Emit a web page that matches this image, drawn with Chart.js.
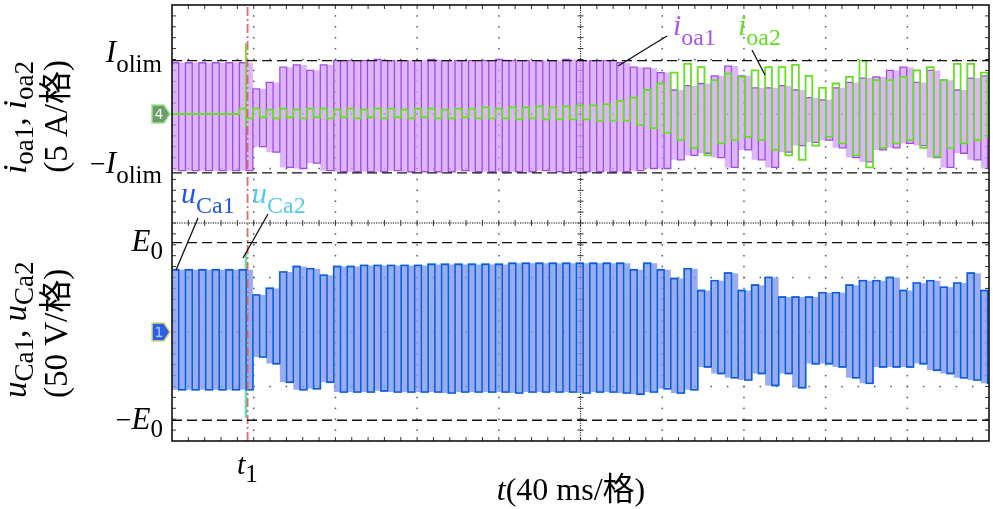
<!DOCTYPE html>
<html>
<head>
<meta charset="utf-8">
<script src="https://cdn.jsdelivr.net/npm/chart.js@4.4.1/dist/chart.umd.min.js"></script>
<style>
html, body { margin: 0; padding: 0; background: #fff; }
</style>
</head>
<body>
<canvas id="myChart" width="993" height="509"></canvas>
<script>
// ms per switching cycle, and the instant t1 (40 ms per division)
const periodo = 6.6
const t1 = 37

// i_oa1 peaks per cycle (A)
const ioa1Hi = [4.7, 4.7, 4.7, 4.7, 4.7, 4.7,
  2.3, 2.9, 4.3, 4.5, 4.0, 4.5,
  4.9, 4.9, 4.9, 5.0, 4.9, 4.9, 4.9, 5.0, 4.9, 4.9, 4.9, 4.9, 5.0, 4.9, 4.9, 4.9, 4.9, 5.0, 4.9, 4.9, 4.9,
  4.7, 4.3, 4.2, 3.8, 2.2, 2.6, 2.8, 3.5, 4.4, 3.5, 2.4, 2.4, 2.6, 2.2, 1.5, 1.3, 2.4, 2.9, 3.3, 3.4, 4.0, 4.3, 2.9, 4.0, 3.1, 2.2, 3.3, 3.5]
const ioa1Lo = [-5.2, -5.2, -5.2, -5.2, -5.2, -5.2,
  -3.0, -3.5, -4.9, -5.0, -4.5, -5.2,
  -5.3, -5.3, -5.3, -5.3, -5.2, -5.3, -5.3, -5.3, -5.3, -5.2, -5.3, -5.3, -5.3, -5.3, -5.3, -5.2, -5.3, -5.3, -5.3, -5.3, -5.3,
  -5.3, -5.2, -5.0, -5.0, -4.2, -3.8, -3.6, -4.0, -4.9, -3.3, -4.2, -4.9, -3.5, -2.9, -2.6, -2.4, -3.1, -4.0, -4.4, -3.3, -3.1, -2.7, -2.9, -4.0, -4.9, -3.6, -4.2, -5.0]

// i_oa2 peaks per cycle (A)
const ioa2Hi = [0, 0, 0, 0, 0, 0.5,
  0.5, 0.4, 0.5, 0.4, 0.5, 0.5, 0.4, 0.5, 0.4, 0.5, 0.5, 0.4, 0.5, 0.5, 0.4, 0.5, 0.5, 0.6, 0.5, 0.6, 0.6, 0.7, 0.6, 0.7, 0.8, 0.8, 0.9,
  1.2, 1.5, 2.2, 2.8, 3.8, 4.6, 4.3, 3.1, 3.7, 3.4, 4.0, 4.3, 4.3, 4.5, 3.5, 2.4, 2.8, 3.4, 4.9, 3.1, 3.1, 3.4, 4.0, 4.3, 3.1, 4.6, 4.6, 3.8]
const ioa2Lo = [0, 0, 0, 0, 0, -0.4,
  -0.3, -0.4, -0.3, -0.4, -0.3, -0.4, -0.3, -0.4, -0.3, -0.4, -0.3, -0.4, -0.3, -0.4, -0.4, -0.3, -0.4, -0.4, -0.4, -0.5, -0.4, -0.5, -0.5, -0.5, -0.5, -0.6, -0.6,
  -0.6, -1.0, -1.3, -1.7, -2.4, -3.1, -3.8, -2.7, -2.4, -2.1, -2.4, -3.3, -3.8, -4.2, -2.9, -2.1, -2.7, -3.8, -4.9, -3.1, -2.7, -2.4, -3.1, -3.9, -3.1, -2.7, -2.4, -2.1]

// u_Ca1 peaks per cycle (V); u_Ca2 lies under it
const uCa1Hi = [57, 57, 57, 57, 57, 57,
  34, 40, 55, 60, 58, 52,
  60, 60, 61, 61, 61, 61, 61, 62, 62, 62, 62, 62, 62, 63, 63, 63, 63, 63, 63, 63, 63,
  63, 57, 63, 57, 49, 58, 38, 47, 54, 38, 43, 50, 32, 32, 32, 36, 36, 43, 47, 47, 50, 38, 45, 47, 41, 45, 54, 38]
const uCa1Lo = [-53, -53, -53, -53, -53, -53,
  -23, -29, -46, -53, -52, -46,
  -55, -55, -55, -54, -55, -55, -55, -55, -56, -55, -55, -55, -55, -56, -55, -55, -55, -55, -56, -55, -55,
  -56, -57, -55, -52, -56, -53, -32, -38, -42, -44, -38, -49, -38, -51, -29, -29, -32, -42, -47, -32, -32, -32, -29, -35, -38, -42, -44, -47]

// spikes right before t1 (ms, A, V)
const tPico = 36.2
const ioa2Pico = [6.5, -1.2]
const uCa2Pico = [73, -79]

// dashed limit lines
const limCorriente = [4.9, -5.4]
const limTension = [82, -81]

function onda(hi, lo) {
  let pts = []
  hi.forEach((h, i) => {
    let s = i * periodo
    pts.push({x: s, y: h}, {x: s + periodo / 2, y: h}, {x: s + periodo / 2, y: lo[i]}, {x: s + periodo, y: lo[i]})
  })
  return pts
}

function envolvente(v) {
  let pts = []
  v.forEach((val, i) => pts.push({x: i * periodo, y: val}, {x: (i + 1) * periodo, y: val}))
  return pts
}

function horizontal(v, eje) {
  return {data: [{x: 0, y: v}, {x: 400, y: v}], yAxisID: eje, borderColor: '#111', borderWidth: 1.4,
    borderDash: [10, 5], pointRadius: 0, fill: false, order: 0}
}

function escribir(ctx, x, y, partes, align, color) {
  let ancho = 0
  partes.forEach(p => { ctx.font = p[1]; ancho += ctx.measureText(p[0]).width })
  let px = align === 'right' ? x - ancho : align === 'center' ? x - ancho / 2 : x
  ctx.fillStyle = color
  ctx.textAlign = 'left'
  ctx.textBaseline = 'alphabetic'
  partes.forEach(p => {
    ctx.font = p[1]
    ctx.fillText(p[0], px, y + p[2])
    px += ctx.measureText(p[0]).width
  })
}

const serif = '"Liberation Serif", "Noto Sans CJK SC", serif'
const vItal = s => 'italic ' + s + 'px ' + serif
const vRec = s => s + 'px ' + serif

const reticula = {
  id: 'reticula',
  beforeDatasetsDraw(chart) {
    const {ctx, chartArea: a} = chart
    const dx = (a.right - a.left) / 10, dy = (a.bottom - a.top) / 8
    ctx.save()
    ctx.fillStyle = '#555'
    for (let i = 1; i < 10; i++) {
      if (i === 5) continue
      let px = a.left + i * dx
      for (let j = 1; j < 40; j++) ctx.fillRect(px - 0.7, a.top + j * dy / 5 - 0.7, 1.5, 1.5)
    }
    for (let j = 1; j < 8; j++) {
      if (j === 4) continue
      let py = a.top + j * dy
      for (let i = 1; i < 50; i++) ctx.fillRect(a.left + i * dx / 5 - 0.7, py - 0.7, 1.5, 1.5)
    }
    const cx = a.left + 5 * dx, cy = a.top + 4 * dy
    ctx.fillStyle = '#333'
    for (let p = a.left; p < a.right; p += 2.4) ctx.fillRect(p, cy - 0.6, 1.2, 1.2)
    for (let p = a.top; p < a.bottom; p += 2.4) ctx.fillRect(cx - 0.6, p, 1.2, 1.2)
    ctx.strokeStyle = '#333'
    ctx.lineWidth = 1
    ctx.beginPath()
    for (let i = 1; i < 50; i++) {
      let px = a.left + i * dx / 5
      ctx.moveTo(px, cy - 3); ctx.lineTo(px, cy + 3)
      ctx.moveTo(px, a.top); ctx.lineTo(px, a.top + 4)
      ctx.moveTo(px, a.bottom); ctx.lineTo(px, a.bottom - 4)
    }
    for (let j = 1; j < 40; j++) {
      let py = a.top + j * dy / 5
      ctx.moveTo(cx - 3, py); ctx.lineTo(cx + 3, py)
      ctx.moveTo(a.left, py); ctx.lineTo(a.left + 4, py)
      ctx.moveTo(a.right, py); ctx.lineTo(a.right - 4, py)
    }
    ctx.stroke()
    ctx.restore()
  },
  afterDraw(chart) {
    const {ctx, chartArea: a, scales: {yI, yU}} = chart
    ctx.save()
    ctx.strokeStyle = '#111'
    ctx.lineWidth = 1.6
    ctx.strokeRect(a.left, a.top, a.right - a.left, a.bottom - a.top)

    // channel markers
    const marca = (y, relleno, borde, txt, colTxt) => {
      ctx.beginPath()
      ctx.moveTo(152, y - 9); ctx.lineTo(164, y - 9); ctx.lineTo(170, y); ctx.lineTo(164, y + 9); ctx.lineTo(152, y + 9)
      ctx.closePath()
      ctx.fillStyle = relleno; ctx.fill()
      ctx.strokeStyle = borde; ctx.lineWidth = 1.5; ctx.stroke()
      ctx.font = '14px "DejaVu Sans"'
      ctx.fillStyle = colTxt
      ctx.textAlign = 'center'; ctx.textBaseline = 'middle'
      ctx.fillText(txt, 159, y + 1)
    }
    marca(yI.getPixelForValue(0), '#6f9a6f', '#9be88f', '4', '#e8ffe8')
    marca(yU.getPixelForValue(0), '#2f5fe6', '#d8e070', '1', '#b8ccff')

    // level labels
    const negro = '#000'
    escribir(ctx, 162, yI.getPixelForValue(limCorriente[0]) + 1, [['I', vItal(31), 0], ['olim', vRec(25), 10]], 'right', negro)
    escribir(ctx, 162, yI.getPixelForValue(limCorriente[1]), [['\u2212', vRec(28), 0], ['I', vItal(31), 0], ['olim', vRec(25), 10]], 'right', negro)
    escribir(ctx, 163, yU.getPixelForValue(limTension[0]) + 8, [['E', vItal(31), 0], ['0', vRec(25), 8]], 'right', negro)
    escribir(ctx, 163, yU.getPixelForValue(limTension[1]) + 9, [['\u2212', vRec(28), 0], ['E', vItal(31), 0], ['0', vRec(25), 8]], 'right', negro)

    // time labels
    escribir(ctx, 237, 474, [['t', vItal(30), 0], ['1', vRec(25), 8]], 'left', negro)
    escribir(ctx, 571, 500, [['t', vItal(32), 0], ['(40 ms/格)', vRec(32), 0]], 'center', negro)

    // rotated axis titles
    const girado = (x, y, partes, align) => {
      ctx.save()
      ctx.translate(x, y)
      ctx.rotate(-Math.PI / 2)
      escribir(ctx, 0, 0, partes, align, negro)
      ctx.restore()
    }
    girado(26, 61, [['i', vItal(33), 0], ['oa1', vRec(27), 7], [', ', vRec(33), 0], ['i', vItal(33), 0], ['oa2', vRec(27), 7]], 'right')
    girado(67, 60, [['(5 A/格)', vRec(33), 0]], 'right')
    girado(26, 398, [['u', vItal(33), 0], ['Ca1', vRec(27), 7], [', ', vRec(33), 0], ['u', vItal(33), 0], ['Ca2', vRec(27), 7]], 'left')
    girado(67, 398, [['(50 V/格)', vRec(33), 0]], 'left')

    // trace names and leaders
    escribir(ctx, 181, 203, [['u', vItal(30), 0], ['Ca1', vRec(24), 10]], 'left', '#1f55e8')
    escribir(ctx, 252, 203, [['u', vItal(30), 0], ['Ca2', vRec(24), 10]], 'left', '#55c8f2')
    escribir(ctx, 673, 35, [['i', vItal(30), 0], ['oa1', vRec(24), 10]], 'left', '#a855e6')
    escribir(ctx, 738, 35, [['i', vItal(30), 0], ['oa2', vRec(24), 10]], 'left', '#66dd22')
    ctx.strokeStyle = '#111'
    ctx.lineWidth = 1.3
    ctx.beginPath()
    ctx.moveTo(198, 218); ctx.lineTo(176, 270)
    ctx.moveTo(268, 214); ctx.lineTo(243, 258)
    ctx.moveTo(667, 36); ctx.lineTo(618, 66)
    ctx.moveTo(752, 50); ctx.lineTo(765, 75)
    ctx.stroke()
    ctx.restore()
  }
}

const ctx = document.getElementById('myChart')

new Chart(ctx, {
  type: 'line',
  data: {
    datasets: [
      horizontal(limCorriente[0], 'yI'),
      horizontal(limCorriente[1], 'yI'),
      horizontal(limTension[0], 'yU'),
      horizontal(limTension[1], 'yU'),
      {data: [{x: t1, y: -30}, {x: t1, y: 10}], yAxisID: 'yI', borderColor: 'rgba(222,90,90,0.9)', borderWidth: 1.8,
        borderDash: [9, 3, 2, 3], pointRadius: 0, order: 1},
      {data: [{x: tPico, y: ioa2Pico[0]}, {x: tPico, y: ioa2Pico[1]}], yAxisID: 'yI', borderColor: '#6ee030', borderWidth: 1.8, pointRadius: 0, order: 2},
      {data: onda(ioa2Hi, ioa2Lo), yAxisID: 'yI', borderColor: '#64e020', borderWidth: 1.8, pointRadius: 0, order: 3},
      {data: onda(ioa1Hi, ioa1Lo), yAxisID: 'yI', borderColor: '#a24ce4', borderWidth: 1.3, pointRadius: 0, order: 6},
      {data: envolvente(ioa1Hi), yAxisID: 'yI', borderWidth: 0, pointRadius: 0, fill: '+1', backgroundColor: 'rgba(208,158,246,0.75)', order: 7},
      {data: envolvente(ioa1Lo), yAxisID: 'yI', borderWidth: 0, pointRadius: 0, order: 8},
      {data: onda(uCa1Hi, uCa1Lo), yAxisID: 'yU', borderColor: '#1f50ea', borderWidth: 1.6, pointRadius: 0, order: 9},
      {data: onda(uCa1Hi, uCa1Lo), yAxisID: 'yU', borderColor: '#6ae8c0', borderWidth: 2.1, pointRadius: 0, order: 10},
      {data: [{x: tPico, y: uCa2Pico[0]}, {x: tPico, y: uCa2Pico[1]}], yAxisID: 'yU', borderColor: '#5ce6b8', borderWidth: 2.5, pointRadius: 0, order: 11},
      {data: envolvente(uCa1Hi), yAxisID: 'yU', borderWidth: 0, pointRadius: 0, fill: '+1', backgroundColor: 'rgba(130,150,240,0.8)', order: 12},
      {data: envolvente(uCa1Lo), yAxisID: 'yU', borderWidth: 0, pointRadius: 0, order: 13}
    ]
  },
  options: {
    responsive: false,
    animation: false,
    clip: 0,
    layout: {padding: {left: 172, right: 4, top: 5, bottom: 68}},
    elements: {line: {tension: 0, fill: false}},
    plugins: {legend: {display: false}, tooltip: {enabled: false}},
    scales: {
      x: {type: 'linear', min: 0, max: 400, display: false},
      yI: {type: 'linear', min: -30, max: 10, display: false},
      yU: {type: 'linear', min: -100, max: 300, display: false}
    }
  },
  plugins: [reticula]
})
</script>
</body>
</html>
